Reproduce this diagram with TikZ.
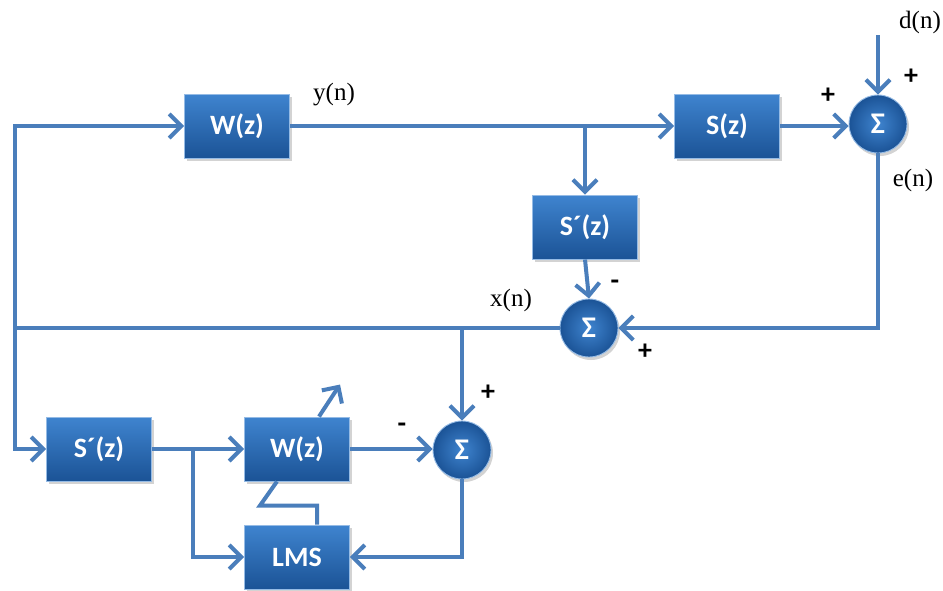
\documentclass[tikz,border=0pt]{standalone}
\usepackage{fontspec}
\setmainfont{Liberation Serif}
\newfontfamily\blkfont{Carlito}
\usetikzlibrary{arrows.meta,shadows,calc}
\definecolor{ln}{HTML}{4A7EBB}
\definecolor{bxtop}{HTML}{3F84CF}
\definecolor{bxbot}{HTML}{1B5396}
\begin{document}
\begin{tikzpicture}[x=1pt,y=-1pt,
  blockbox/.style={draw=bxtop!55!white, line width=0.9pt, top color=bxtop, bottom color=bxbot,
    minimum width=105pt, minimum height=64pt, inner sep=0pt,
    font=\blkfont\bfseries\fontsize{28}{30}\selectfont, text=white,
    drop shadow={opacity=0.35, shadow xshift=2pt, shadow yshift=-3pt}},
  sumnode/.style={circle, draw=bxtop!55!white, line width=0.9pt, inner color=bxtop, outer color=bxbot,
    minimum size=58pt, inner sep=0pt, font=\blkfont\bfseries\fontsize{30}{32}\selectfont, text=white,
    drop shadow={opacity=0.35, shadow xshift=2pt, shadow yshift=-3pt}},
  plainline/.style={draw=ln, line width=4pt},
  sig/.style={plainline, -{Straight Barb[length=12pt,width=24pt]}},
  lbl/.style={font=\fontsize{25}{27}\selectfont, inner sep=0pt},
  sgn/.style={font=\blkfont\bfseries\fontsize{28}{30}\selectfont, inner sep=0pt}
]
\useasboundingbox (0,0) rectangle (943,590);

% blocks
\node[blockbox] (W1) at (237,126) {W(z)};
\node[blockbox] (S) at (727,126) {S(z)};
\node[sumnode] (Sum1) at (878,124) {Σ};
\node[blockbox] (Sp1) at (585,227) {S´(z)};
\node[sumnode] (Sum2) at (589,328) {Σ};
\node[blockbox] (Sp2) at (99,449) {S´(z)};
\node[blockbox] (W2) at (297,449) {W(z)};
\node[blockbox] (LMS) at (297,557) {LMS};
\node[sumnode] (Sum3) at (462,450) {Σ};

% coordinates
\coordinate (L) at (15,328);
\coordinate (J1) at (462,328);
\coordinate (J2) at (585,126);
\coordinate (J3) at (193,449);
\coordinate (D) at (878,35);

% connectors
\draw[plainline] (Sum2.west) -- (L);
\draw[sig] (L) |- (W1.west);
\draw[sig] (L) |- (Sp2.west);
\draw[sig] (J1) -- (Sum3.north);
\draw[sig] (W1.east) -- (S.west);
\draw[sig] (J2) -- (Sp1.north);
\draw[sig] (S.east) -- (S.east -| Sum1.west);
\draw[sig] (D) -- (Sum1.north);
\draw[sig] (Sum1.south) |- (Sum2.east);
\draw[sig] (Sp1.south) -- (Sum2.north);
\draw[sig] (Sp2.east) -- (W2.west);
\draw[sig] (J3) |- (LMS.west);
\draw[sig] (W2.east) -- (W2.east -| Sum3.west);
\draw[sig] (Sum3.south) |- (LMS.east);
\draw[plainline] ([xshift=20pt]LMS.north) -- ++(0,-19) -- ++(-57,0) -- ([xshift=-20pt]W2.south);
\draw[sig] ([xshift=22pt]W2.north) -- ++(21,-32);

% labels
\node[lbl] at (334,95) {y(n)};
\node[lbl] at (920,22) {d(n)};
\node[lbl] at (913,180) {e(n)};
\node[lbl] at (511,300) {x(n)};

% signs
\node[sgn] at (828,96) {+};
\node[sgn] at (911,77) {+};
\node[sgn] at (615,285) {-};
\node[sgn] at (645,352) {+};
\node[sgn] at (488,393) {+};
\node[sgn] at (402,428) {-};
\end{tikzpicture}
\end{document}
